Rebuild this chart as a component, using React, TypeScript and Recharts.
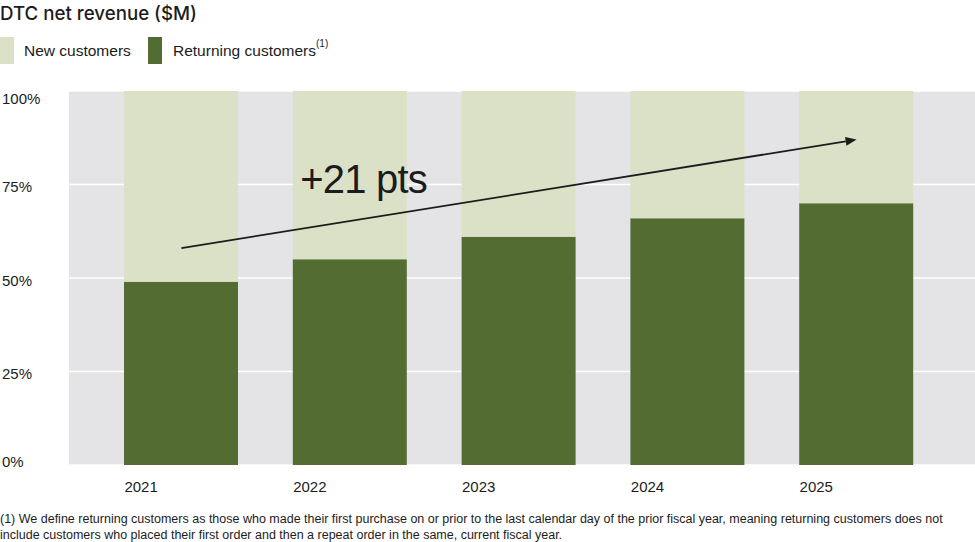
import React from 'react';
import {
  BarChart,
  Bar,
  XAxis,
  YAxis,
  CartesianGrid,
  ReferenceLine,
  ReferenceDot,
} from 'recharts';

const years = ['2021', '2022', '2023', '2024', '2025'];
const returningShare = [49, 55, 61, 66, 70];
const newShare = [51, 45, 39, 34, 30];
const yTicks = [0, 25, 50, 75, 100];
const arrowFrom = { year: '2021', pct: 58 };
const arrowTo = { year: '2025', pct: 87 };
const calloutAt = { year: '2022', pct: 73 };

const data = years.map((year, i) => ({
  year,
  returning: returningShare[i],
  fresh: newShare[i],
}));

const FONT = '"Liberation Sans", Arial, sans-serif';
const INK = '#1c1c1c';
const DARK = '#526c32';
const LIGHT = '#dbe1c7';
const PLOT_BG = '#e4e4e6';
const BAR_W = 114;

const YTick = (props: any) => {
  const v = props.payload.value;
  const off = v === 100 ? 7 : v === 0 ? -4 : 2;
  return (
    <text x={2} y={props.y + off} dominantBaseline="central" fontSize={15} fill={INK} fontFamily={FONT}>
      {v}%
    </text>
  );
};

const XTick = (props: any) => (
  <text x={props.x - BAR_W / 2} y={props.y + 13} dominantBaseline="central" fontSize={15} fill={INK} fontFamily={FONT}>
    {props.payload.value}
  </text>
);

const Arrow = (props: any) => {
  const { x1, y1, x2, y2 } = props;
  if ([x1, y1, x2, y2].some((n) => typeof n !== 'number' || isNaN(n))) return <g />;
  const ang = Math.atan2(y2 - y1, x2 - x1);
  const len = 11;
  const hw = 4.5;
  const bx = x2 - len * Math.cos(ang);
  const by = y2 - len * Math.sin(ang);
  const px = -Math.sin(ang) * hw;
  const py = Math.cos(ang) * hw;
  return (
    <g>
      <line x1={x1} y1={y1} x2={bx} y2={by} stroke={INK} strokeWidth={1.8} />
      <polygon points={`${x2},${y2} ${bx + px},${by + py} ${bx - px},${by - py}`} fill={INK} />
    </g>
  );
};

const Callout = (props: any) => (
  <text x={props.cx - 50} y={props.cy + 1} fontSize={40} letterSpacing={-0.8} fill={INK} fontFamily={FONT}>
    +21 pts
  </text>
);

const Swatch = ({ color }: { color: string }) => (
  <span style={{ display: 'inline-block', width: 14, height: 27, background: color }} />
);

export default function App() {
  return (
    <div style={{ position: 'absolute', left: 0, top: 0, width: 975, height: 542, background: '#fff', fontFamily: FONT, color: INK }}>
      <div style={{ position: 'absolute', left: 0, top: 2, fontSize: 18.7, fontWeight: 500, fontFamily: 'Inter, sans-serif', whiteSpace: 'nowrap' }}>
        DTC net revenue ($M)
      </div>
      <div style={{ position: 'absolute', left: 0, top: 37, height: 27, display: 'flex', alignItems: 'center', fontSize: 15.5, whiteSpace: 'nowrap' }}>
        <Swatch color={LIGHT} />
        <span style={{ marginLeft: 10, width: 124 }}>New customers</span>
        <Swatch color={DARK} />
        <span style={{ marginLeft: 11 }}>
          Returning customers<sup style={{ fontSize: 10, verticalAlign: 'top', position: 'relative', top: -4 }}>(1)</sup>
        </span>
      </div>
      <BarChart
        width={975}
        height={542}
        data={data}
        margin={{ top: 91, right: 0, bottom: 47, left: 0 }}
        style={{ position: 'absolute', left: 0, top: 0 }}
      >
        <CartesianGrid vertical={false} fill={PLOT_BG} fillOpacity={1} stroke="#ffffff" strokeWidth={1.5} />
        <XAxis
          dataKey="year"
          axisLine={false}
          tickLine={false}
          padding={{ left: 28, right: 34 }}
          height={30}
          tick={<XTick />}
          interval={0}
        />
        <YAxis
          width={69}
          domain={[0, 100]}
          ticks={yTicks}
          axisLine={false}
          tickLine={false}
          tick={<YTick />}
        />
        <Bar dataKey="returning" stackId="s" fill={DARK} barSize={BAR_W} isAnimationActive={false} />
        <Bar dataKey="fresh" stackId="s" fill={LIGHT} barSize={BAR_W} isAnimationActive={false} />
        <ReferenceLine
          segment={[
            { x: arrowFrom.year, y: arrowFrom.pct },
            { x: arrowTo.year, y: arrowTo.pct },
          ]}
          shape={<Arrow />}
        />
        <ReferenceDot x={calloutAt.year} y={calloutAt.pct} r={0} shape={<Callout />} />
      </BarChart>
      <div style={{ position: 'absolute', left: 0, top: 511, fontSize: 12.5, lineHeight: '16px', whiteSpace: 'nowrap' }}>
        (1) We define returning customers as those who made their first purchase on or prior to the last calendar day of the prior fiscal year, meaning returning customers does not
        <br />
        include customers who placed their first order and then a repeat order in the same, current fiscal year.
      </div>
    </div>
  );
}
